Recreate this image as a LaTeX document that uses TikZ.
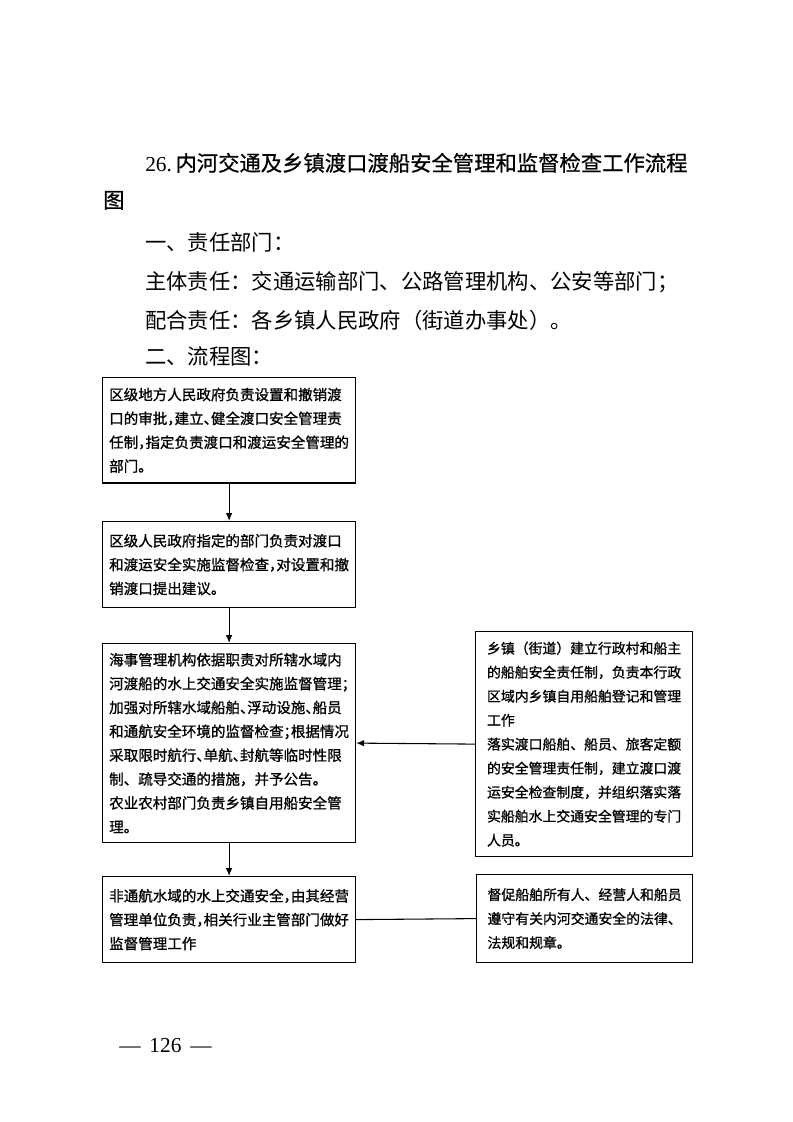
\documentclass[tikz,border=0pt]{standalone}
\usepackage{fontspec}
\setmainfont{Liberation Serif}
\newfontfamily\cjk{Noto Sans CJK SC}
\newfontfamily\cjkb{Noto Sans CJK SC}[FakeBold=1]
\newfontfamily\cjkt{Noto Sans CJK SC}[FakeBold=0.7]
\newcommand\hp[1]{\makebox[0.5em][l]{#1}}
\usetikzlibrary{arrows.meta}
\begin{document}
\begin{tikzpicture}[x=0.75pt,y=-0.75pt,
  box/.style={draw, line width=0.9pt, align=left, anchor=north west, inner xsep=2pt, inner ysep=0pt,
    font=\cjkb\fontsize{10.9pt}{17.9pt}\selectfont},
  rbox/.style={box, font=\cjkb\fontsize{10.4pt}{18pt}\selectfont},
  arr/.style={line width=0.8pt, -{Latex[length=6pt,width=5pt]}},
  conn/.style={line width=0.8pt},
  head/.style={anchor=base west, inner sep=0pt, font=\cjk\fontsize{16pt}{20pt}\selectfont}]
\useasboundingbox (0,0) rectangle (793,1122);

% headings
\node[head, font=\cjkt\fontsize{16pt}{20pt}\selectfont] (title) at (145,171) {{\rmfamily 26.\,}内河交通及乡镇渡口渡船安全管理和监督检查工作流程};
\node[head, font=\cjkt\fontsize{16pt}{20pt}\selectfont] (title2) at (103,208) {图};
\node[head] (h1) at (145,250) {一、责任部门：};
\node[head] (h2) at (145,289) {主体责任：交通运输部门、公路管理机构、公安等部门；};
\node[head] (h3) at (145,328) {配合责任：各乡镇人民政府（街道办事处）。};
\node[head] (h4) at (145,364) {二、流程图：};

% boxes
\node[box, minimum width=189.75pt, minimum height=79pt] (b1) at (102,377)
 {区级地方人民政府负责设置和撤销渡\\口的审批\hp{，}建立\hp{、}健全渡口安全管理责\\任制\hp{，}指定负责渡口和渡运安全管理的\\部门。};
\node[box, minimum width=189.75pt, minimum height=64.5pt] (b2) at (102,521)
 {区级人民政府指定的部门负责对渡口\\和渡运安全实施监督检查\hp{，}对设置和撤\\销渡口提出建议。};
\node[box, minimum width=189.75pt, minimum height=149.25pt] (b3) at (102,643)
 {海事管理机构依据职责对所辖水域内\\河渡船的水上交通安全实施监督管理\hp{；}\\加强对所辖水域船舶\hp{、}浮动设施\hp{、}船员\\和通航安全环境的监督检查\hp{；}根据情况\\采取限时航行\hp{、}单航\hp{、}封航等临时性限\\制、疏导交通的措施，并予公告。\\农业农村部门负责乡镇自用船安全管\\理。};
\node[box, minimum width=189.75pt, minimum height=64.5pt] (b4) at (102,876)
 {非通航水域的水上交通安全\hp{，}由其经营\\管理单位负责\hp{，}相关行业主管部门做好\\监督管理工作};
\node[rbox, minimum width=162.75pt, minimum height=168.75pt] (r1) at (475,631)
 {乡镇（街道）建立行政村和船主\\的船舶安全责任制，负责本行政\\区域内乡镇自用船舶登记和管理\\工作\\落实渡口船舶、船员、旅客定额\\的安全管理责任制，建立渡口渡\\运安全检查制度，并组织落实落\\实船舶水上交通安全管理的专门\\人员。};
\node[rbox, minimum width=162pt, minimum height=66pt] (r2) at (476,874)
 {督促船舶所有人、经营人和船员\\遵守有关内河交通安全的法律、\\法规和规章。};

% connectors
\draw[arr] (b1.south) -- (b2.north);
\draw[arr] (b2.south) -- (b3.north);
\draw[arr] (b3.south) -- (b4.north);
\draw[arr] (r1.west) -- (b3.east);
\draw[conn] (b4.east) -- (r2.west);

% page number
\node[anchor=base west, inner sep=0pt, font=\fontsize{16pt}{20pt}\selectfont] (pg) at (119,1052) {—\, 126\, —};
\end{tikzpicture}
\end{document}
